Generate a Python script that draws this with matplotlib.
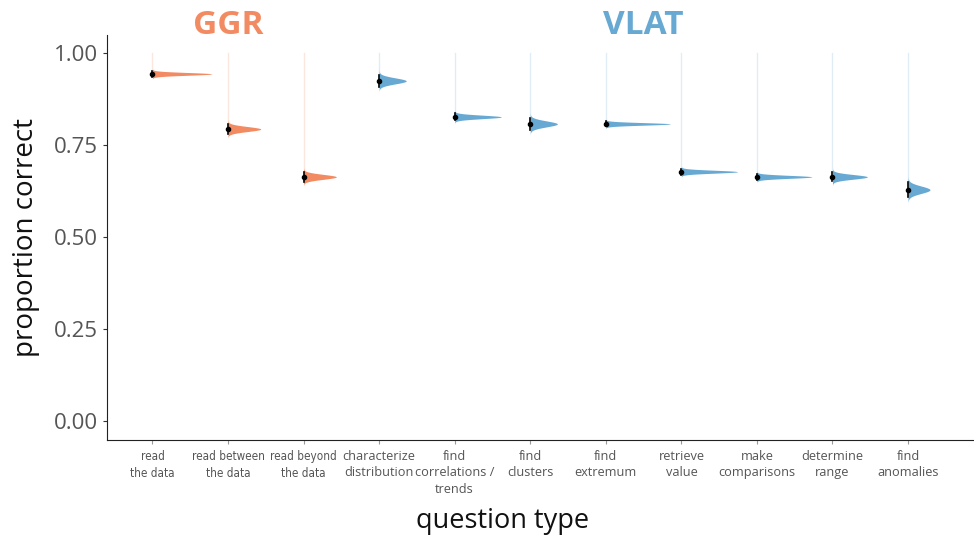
import numpy as np
import matplotlib
matplotlib.use('Agg')
import matplotlib.pyplot as plt
from matplotlib import font_manager
from matplotlib.font_manager import FontProperties

# question types, grouped by framework
ggr_labels = ['read\nthe data', 'read between\nthe data', 'read beyond\nthe data']
vlat_labels = ['characterize\ndistribution', 'find\ncorrelations /\ntrends', 'find\nclusters',
               'find\nextremum', 'retrieve\nvalue', 'make\ncomparisons', 'determine\nrange',
               'find\nanomalies']

# posterior mean and spread of proportion correct
ggr_mean = [0.943, 0.793, 0.663]
ggr_sd = [0.0037, 0.0067, 0.0067]
vlat_mean = [0.924, 0.826, 0.807, 0.807, 0.677, 0.663, 0.663, 0.628]
vlat_sd = [0.0081, 0.0047, 0.0081, 0.0034, 0.0039, 0.0040, 0.0063, 0.0100]

ggr_color = '#F28A62'
vlat_color = '#67A9D3'

labels = ggr_labels + vlat_labels
means = ggr_mean + vlat_mean
sds = ggr_sd + vlat_sd
colors = [ggr_color] * len(ggr_labels) + [vlat_color] * len(vlat_labels)

plt.rcParams['font.family'] = ['Open Sans', 'DejaVu Sans']

# narrow font file for the GGR tick labels, if one is installed
narrow_prop = FontProperties(family=['Roboto', 'DejaVu Sans'], size=7.6)
candidates = []
for f in font_manager.fontManager.ttflist:
    fn = f.fname.lower()
    if ('condensed' in fn or 'narrow' in fn) and 'sans' in fn and 'bold' not in fn \
            and 'oblique' not in fn and 'italic' not in fn and 'mono' not in fn:
        candidates.append(f.fname)
if candidates:
    narrow_prop = FontProperties(fname=sorted(candidates)[0], size=8.4)

fig = plt.figure(figsize=(9.74, 5.37), dpi=100)
ax = fig.add_axes([0.110, 0.181, 0.889, 0.754])

slab_scale = 0.00727
for i, (mu, sd, col) in enumerate(zip(means, sds, colors)):
    # faint guide line up to 1.0
    ax.plot([i, i], [mu, 1.0], color=col, alpha=0.2, lw=1, zorder=1)
    y = np.linspace(mu - 5 * sd, mu + 5 * sd, 200)
    dens = np.exp(-0.5 * ((y - mu) / sd) ** 2) / (sd * np.sqrt(2 * np.pi))
    ax.fill_betweenx(y, i, i + slab_scale * dens, color=col, lw=0, zorder=2)
    ax.plot([i, i], [mu - 2 * sd, mu + 2 * sd], color='black', lw=1.2, zorder=3)
    ax.plot(i, mu, 'o', color='black', ms=3, zorder=4)

ax.set_xlim(-0.6, 10.86)
ax.set_ylim(-0.052, 1.049)
ax.set_yticks([0, 0.25, 0.5, 0.75, 1.0])
ax.set_yticklabels(['0.00', '0.25', '0.50', '0.75', '1.00'])
ax.set_xticks(range(len(labels)))
ax.set_xticklabels(labels)
for k, t in enumerate(ax.get_xticklabels()):
    t.set_color('#555555')
    t.set_verticalalignment('top')
    if k < len(ggr_labels):
        t.set_fontproperties(narrow_prop)
        t.set_linespacing(1.45)
    else:
        t.set_fontsize(9.2)
        t.set_linespacing(1.35)

ax.tick_params(axis='y', labelsize=16, labelcolor='#555555', color='#333333', length=3)
ax.tick_params(axis='x', color='#999999', length=3, pad=4)
for s in ['top', 'right']:
    ax.spines[s].set_visible(False)
ax.spines['left'].set_color('#222222')
ax.spines['bottom'].set_color('#222222')

ax.set_ylabel('proportion correct', fontsize=20, color='#111111', labelpad=10)
ax.set_xlabel('question type', fontsize=19.5, color='#111111', labelpad=8)
ax.xaxis.set_label_coords(0.457, -0.165)

# group headers
ax.text(np.mean(range(len(ggr_labels))), 1.052, 'GGR', color=ggr_color, fontsize=24,
        fontweight='bold', ha='center', va='baseline', clip_on=False)
ax.text(len(ggr_labels) + (len(vlat_labels) - 1) / 2, 1.052, 'VLAT', color=vlat_color,
        fontsize=24, fontweight='bold', ha='center', va='baseline', clip_on=False)

fig.savefig('out.png', dpi=100, facecolor='white')
